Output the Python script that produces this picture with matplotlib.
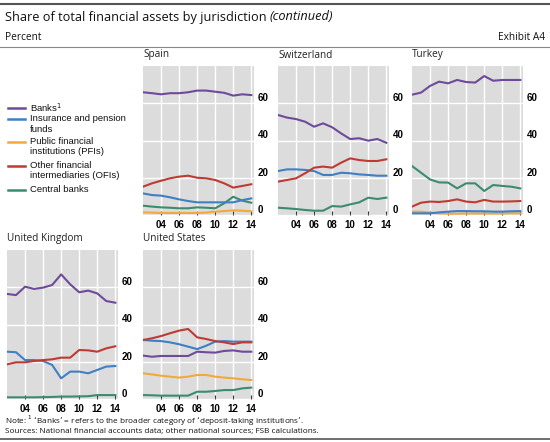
import matplotlib
matplotlib.use("Agg")
import matplotlib.pyplot as plt
import matplotlib.transforms as mtransforms
import numpy as np

years = list(range(2002, 2015))
series_names = ["Banks$^{1}$", ["Insurance and pension", "funds"],
                ["Public financial", "institutions (PFIs)"],
                ["Other financial", "intermediaries (OFIs)"], "Central banks"]
colors = ["#6F4A9A", "#3F7FC4", "#F2A93B", "#C03A34", "#3B8C6E"]

spain_banks = [65.9, 65.4, 64.8, 65.4, 65.4, 65.9, 66.8, 66.8, 66.2, 65.6, 64.1, 64.8, 64.4]
spain_ins = [11.6, 10.7, 10.4, 9.5, 8.4, 7.5, 6.8, 6.8, 6.8, 6.8, 6.8, 8.0, 8.9]
spain_pfi = [1.4, 1.3, 1.1, 1.1, 1.1, 1.1, 1.1, 1.3, 1.8, 2.1, 2.5, 2.3, 2.0]
spain_ofi = [15.2, 17.0, 18.4, 19.7, 20.6, 21.1, 20.0, 19.7, 18.8, 17.0, 14.7, 15.6, 16.5]
spain_cb = [5.0, 4.5, 4.1, 3.9, 3.6, 3.6, 4.1, 3.9, 3.6, 6.3, 9.8, 7.7, 6.6]

swiss_banks = [53.7, 52.3, 51.5, 50.1, 47.4, 49.2, 47.1, 43.8, 40.8, 41.2, 39.9, 40.8, 38.8]
swiss_ins = [23.6, 24.5, 24.5, 24.2, 23.6, 21.5, 21.5, 22.7, 22.4, 21.8, 21.5, 21.1, 21.1]
swiss_pfi = None
swiss_ofi = [17.9, 18.8, 19.7, 22.4, 25.4, 26.0, 25.4, 28.1, 30.4, 29.5, 29.0, 29.0, 29.9]
swiss_cb = [3.9, 3.6, 3.2, 2.7, 2.3, 2.3, 4.8, 4.5, 5.7, 6.8, 9.3, 8.6, 9.3]

turkey_banks = [64.6, 65.7, 69.3, 71.6, 70.7, 72.5, 71.4, 71.1, 74.6, 72.1, 72.5, 72.5, 72.5]
turkey_ins = [0.9, 0.9, 0.9, 1.4, 1.8, 2.1, 2.1, 2.0, 2.0, 1.8, 1.8, 2.0, 2.1]
turkey_pfi = [1.8, 1.8, 1.3, 0.9, 0.7, 0.7, 0.8, 0.8, 0.8, 0.8, 0.8, 0.9, 0.9]
turkey_ofi = [4.5, 6.6, 7.2, 7.0, 7.5, 8.4, 7.2, 6.8, 8.1, 7.2, 7.2, 7.3, 7.5]
turkey_cb = [26.3, 22.7, 19.1, 17.5, 17.4, 14.3, 17.0, 17.0, 12.9, 16.1, 15.6, 15.2, 14.3]

uk_banks = [56.4, 55.8, 60.3, 59.1, 59.8, 61.2, 66.9, 61.6, 57.3, 58.2, 56.7, 52.6, 51.7]
uk_ins = [25.4, 25.1, 20.9, 20.9, 20.4, 18.3, 11.1, 14.7, 14.7, 13.8, 15.6, 17.4, 17.7]
uk_pfi = None
uk_ofi = [18.6, 19.7, 19.7, 20.4, 20.9, 21.3, 22.2, 22.2, 26.3, 26.1, 25.4, 27.2, 28.3]
uk_cb = [0.9, 0.9, 0.9, 0.9, 1.0, 1.1, 1.3, 1.3, 1.4, 1.5, 2.1, 2.1, 2.1]

us_banks = [23.3, 22.7, 23.1, 23.1, 23.1, 23.1, 25.4, 25.1, 24.9, 25.8, 26.1, 25.4, 25.4]
us_ins = [31.7, 31.3, 31.1, 30.4, 29.4, 28.1, 26.8, 28.6, 30.8, 31.1, 30.8, 30.8, 30.8]
us_pfi = [13.8, 13.2, 12.5, 12.0, 11.5, 12.0, 12.9, 12.9, 12.0, 11.5, 11.1, 10.6, 10.2]
us_ofi = [31.7, 32.6, 33.8, 35.3, 36.7, 37.6, 33.1, 32.2, 31.1, 30.4, 29.5, 30.4, 30.4]
us_cb = [2.1, 2.0, 1.8, 1.8, 1.8, 1.8, 3.9, 3.9, 4.3, 4.8, 4.8, 5.7, 6.1]

panels = [
    ("Spain", [spain_banks, spain_ins, spain_pfi, spain_ofi, spain_cb]),
    ("Switzerland", [swiss_banks, swiss_ins, swiss_pfi, swiss_ofi, swiss_cb]),
    ("Turkey", [turkey_banks, turkey_ins, turkey_pfi, turkey_ofi, turkey_cb]),
    ("United Kingdom", [uk_banks, uk_ins, uk_pfi, uk_ofi, uk_cb]),
    ("United States", [us_banks, us_ins, us_pfi, us_ofi, us_cb]),
]
xticks = [2004, 2006, 2008, 2010, 2012, 2014]
xtick_labels = ["04", "06", "08", "10", "12", "14"]
yticks = [0, 20, 40, 60]
ytick_labels = ["0", "20", "40", "60"]

W, H = 550, 442
fig = plt.figure(figsize=(W / 100, H / 100), dpi=100)
fig.patch.set_facecolor("white")

def box(left, top, width, height):
    return [left / W, 1 - (top + height) / H, width / W, height / H]

def fy(y):
    return 1 - y / H

places = [(143, 66), (278, 66), (412, 66), (7, 250), (143, 250)]
AW, AH = 111, 149

tickfont = dict(family="Liberation Sans", size=7, weight="bold")
textfont = "Open Sans"

for (name, data), (lx, ty) in zip(panels, places):
    ax = fig.add_axes(box(lx, ty, AW, AH))
    ax.set_facecolor("#DCDCDC")
    for s in ax.spines.values():
        s.set_visible(False)
    ax.set_xlim(2002, 2014.3)
    ax.set_ylim(0, 80)
    ax.set_xticks(xticks)
    ax.set_xticklabels(xtick_labels, fontdict=tickfont)
    ax.set_yticks(yticks)
    ax.set_yticklabels(ytick_labels, fontdict=tickfont)
    ax.yaxis.tick_right()
    ax.tick_params(axis="y", length=0, pad=2.5)
    ax.tick_params(axis="x", direction="in", length=3, width=0.8, color="#333333", pad=3.5)
    ax.grid(True, color="white", linewidth=1.0)
    ax.set_axisbelow(True)
    offset = mtransforms.ScaledTranslation(0, 6 / 100, fig.dpi_scale_trans)
    for lab in ax.get_yticklabels():
        lab.set_transform(lab.get_transform() + offset)
    draw_order = [2, 4, 1, 3, 0]
    for i in draw_order:
        if data[i] is None:
            continue
        ax.plot(years, data[i], color=colors[i], linewidth=1.5, solid_joinstyle="round", zorder=3)
    fig.text(lx / W, fy(ty - 11), name, fontsize=7.2, family=textfont,
             ha="left", va="center", color="#222222")

# Legend
leg_y = [[108], [119, 129], [142, 152], [166, 176], [190]]
for i in range(5):
    ys = leg_y[i]
    fig.add_artist(plt.Line2D([8 / W, 25 / W], [fy(ys[0]), fy(ys[0])], color=colors[i],
                              linewidth=1.8, transform=fig.transFigure))
    lines = series_names[i] if isinstance(series_names[i], list) else [series_names[i]]
    for yy, txt in zip(ys, lines):
        fig.text(30 / W, fy(yy), txt, fontsize=6.8, family="Liberation Sans",
                 ha="left", va="center", color="#111111")

# Header
fig.add_artist(plt.Line2D([0, 1], [fy(4), fy(4)], color="#555555", linewidth=1.5,
                          transform=fig.transFigure))
title = fig.text(5 / W, fy(17), "Share of total financial assets by jurisdiction ", fontsize=9.2,
                 family=textfont, ha="left", va="center", color="#111111")
fig.canvas.draw()
r = fig.canvas.get_renderer()
base = title.get_window_extent(renderer=r)
fig.text(base.x1 / W, fy(17), "(continued)", fontsize=9.2, family=textfont,
         style="italic", ha="left", va="center", color="#111111")
fig.text(5 / W, fy(37), "Percent", fontsize=7.3, family=textfont, ha="left",
         va="center", color="#111111")
fig.text(545 / W, fy(37), "Exhibit A4", fontsize=7.3, family=textfont, ha="right",
         va="center", color="#111111")
fig.add_artist(plt.Line2D([0, 1], [fy(47), fy(47)], color="#888888", linewidth=0.8,
                          transform=fig.transFigure))

# Footer
fig.text(5 / W, fy(421),
         "Note: $^{1}$ \u2018Banks\u2019 = refers to the broader category of \u2018deposit-taking institutions\u2019.",
         fontsize=5.9, family=textfont, ha="left", va="center", color="#111111")
fig.text(5 / W, fy(432),
         "Sources: National financial accounts data; other national sources; FSB calculations.",
         fontsize=5.9, family=textfont, ha="left", va="center", color="#111111")
fig.add_artist(plt.Line2D([0, 1], [fy(439), fy(439)], color="#555555", linewidth=1.2,
                          transform=fig.transFigure))

fig.savefig("out.png", dpi=100, facecolor="white")
